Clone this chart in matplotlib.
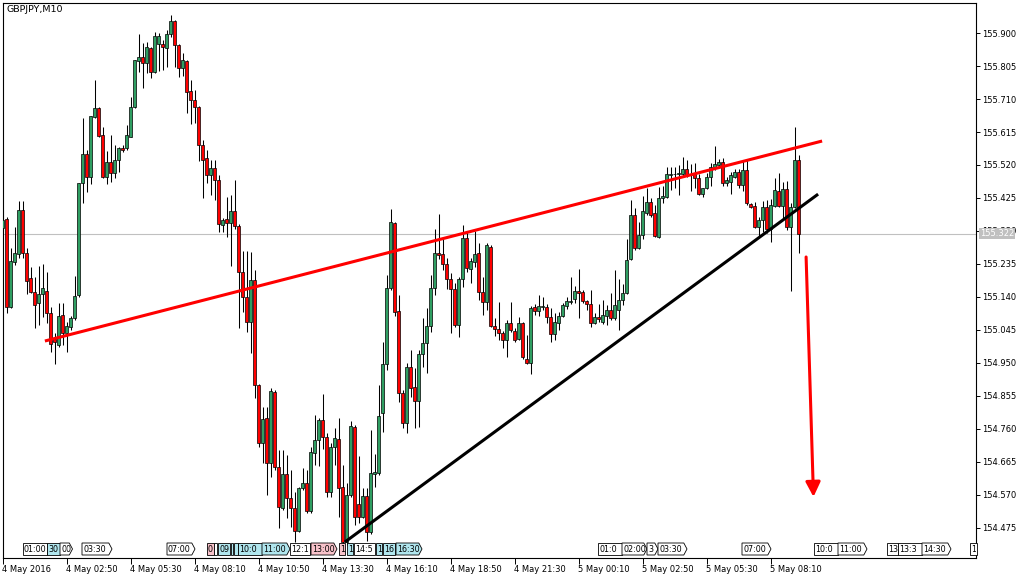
import matplotlib
matplotlib.use("Agg")
import matplotlib.pyplot as plt
import numpy as np
from matplotlib.patches import Polygon
from matplotlib.transforms import blended_transform_factory
from matplotlib.ticker import FixedLocator

# ---------------- data ----------------
title_text = "GBPJPY,M10"

opens = [155.338, 155.364, 155.111, 155.240, 155.263, 155.390, 155.266, 155.194, 155.154, 155.122,
         155.148, 155.157, 155.094, 155.019, 155.001, 155.088, 155.036, 155.053, 155.079, 155.145,
         155.468, 155.551, 155.485, 155.658, 155.684, 155.606, 155.485, 155.528, 155.497, 155.534,
         155.569, 155.569, 155.600, 155.687, 155.819, 155.831, 155.814, 155.857, 155.788, 155.868,
         155.868, 155.857, 155.897, 155.935, 155.865, 155.799, 155.819, 155.733, 155.707, 155.687,
         155.577, 155.540, 155.491, 155.511, 155.477, 155.347, 155.364, 155.353, 155.387, 155.344,
         155.212, 155.140, 155.068, 155.189, 154.886, 154.719, 154.791, 154.662, 154.866, 154.650,
         154.532, 154.630, 154.561, 154.532, 154.466, 154.590, 154.604, 154.523, 154.690, 154.728,
         154.785, 154.736, 154.578, 154.708, 154.731, 154.592, 154.434, 154.569, 154.765, 154.543,
         154.506, 154.567, 154.463, 154.630, 154.633, 154.806, 154.947, 155.166, 155.353, 155.099,
         154.863, 154.777, 154.938, 154.880, 154.840, 154.976, 155.007, 155.056, 155.166, 155.266,
         155.263, 155.235, 155.192, 155.163, 155.059, 155.192, 155.310, 155.220, 155.240, 155.266,
         155.154, 155.125, 155.284, 155.056, 155.047, 155.036, 155.016, 155.065, 155.042, 155.019,
         155.065, 154.961, 154.950, 155.111, 155.099, 155.111, 155.111, 155.082, 155.033, 155.065,
         155.085, 155.114, 155.125, 155.134, 155.157, 155.154, 155.128, 155.119, 155.065, 155.082,
         155.068, 155.085, 155.102, 155.079, 155.102, 155.131, 155.151, 155.249, 155.376, 155.281,
         155.318, 155.382, 155.413, 155.382, 155.312, 155.425, 155.428, 155.491, 155.494, 155.494,
         155.494, 155.508, 155.491, 155.497, 155.482, 155.436, 155.454, 155.485, 155.514, 155.520,
         155.528, 155.468, 155.471, 155.485, 155.500, 155.462, 155.505, 155.408, 155.402, 155.341,
         155.361, 155.399, 155.336, 155.402, 155.445, 155.402, 155.451, 155.341, 155.399, 155.534]

highs = [155.390, 155.370, 155.281, 155.341, 155.416, 155.416, 155.281, 155.226, 155.197, 155.229,
         155.235, 155.212, 155.111, 155.036, 155.122, 155.122, 155.068, 155.085, 155.200, 155.468,
         155.655, 155.563, 155.661, 155.765, 155.687, 155.629, 155.560, 155.606, 155.577, 155.572,
         155.577, 155.635, 155.716, 155.822, 155.897, 155.871, 155.874, 155.860, 155.903, 155.900,
         155.880, 155.909, 155.952, 155.937, 155.868, 155.842, 155.822, 155.765, 155.736, 155.690,
         155.592, 155.563, 155.534, 155.534, 155.491, 155.367, 155.428, 155.433, 155.477, 155.350,
         155.272, 155.272, 155.269, 155.217, 154.888, 154.823, 154.823, 154.878, 154.872, 154.699,
         154.699, 154.685, 154.641, 154.578, 154.592, 154.647, 154.641, 154.708, 154.800, 154.791,
         154.860, 154.748, 154.719, 154.762, 154.791, 154.656, 154.604, 154.783, 154.771, 154.682,
         154.590, 154.590, 154.757, 154.687, 154.886, 155.010, 155.203, 155.393, 155.356, 155.145,
         154.872, 154.950, 154.987, 154.935, 154.987, 155.079, 155.108, 155.203, 155.336, 155.379,
         155.307, 155.252, 155.209, 155.180, 155.197, 155.347, 155.327, 155.252, 155.330, 155.295,
         155.197, 155.295, 155.289, 155.079, 155.125, 155.042, 155.073, 155.125, 155.050, 155.082,
         155.068, 155.030, 155.114, 155.119, 155.145, 155.140, 155.119, 155.108, 155.094, 155.096,
         155.122, 155.140, 155.197, 155.171, 155.220, 155.160, 155.131, 155.160, 155.094, 155.119,
         155.131, 155.117, 155.151, 155.217, 155.192, 155.177, 155.307, 155.419, 155.396, 155.356,
         155.431, 155.454, 155.425, 155.405, 155.456, 155.459, 155.514, 155.514, 155.514, 155.520,
         155.543, 155.534, 155.523, 155.526, 155.494, 155.454, 155.497, 155.526, 155.575, 155.537,
         155.540, 155.485, 155.500, 155.508, 155.508, 155.531, 155.534, 155.410, 155.413, 155.370,
         155.416, 155.419, 155.422, 155.482, 155.497, 155.471, 155.474, 155.410, 155.629, 155.549]

lows = [155.327, 155.094, 155.108, 155.232, 155.252, 155.252, 155.148, 155.151, 155.050, 155.059,
        155.082, 155.065, 154.981, 154.947, 154.996, 155.001, 154.981, 155.045, 155.073, 155.140,
        155.410, 155.442, 155.465, 155.655, 155.600, 155.482, 155.465, 155.471, 155.482, 155.500,
        155.557, 155.563, 155.600, 155.684, 155.788, 155.742, 155.785, 155.770, 155.785, 155.791,
        155.793, 155.802, 155.888, 155.802, 155.773, 155.776, 155.670, 155.638, 155.641, 155.531,
        155.425, 155.468, 155.433, 155.419, 155.327, 155.327, 155.312, 155.229, 155.336, 155.050,
        155.096, 155.039, 154.978, 154.849, 154.708, 154.662, 154.569, 154.621, 154.641, 154.474,
        154.526, 154.503, 154.477, 154.434, 154.463, 154.584, 154.518, 154.518, 154.656, 154.653,
        154.702, 154.564, 154.564, 154.656, 154.506, 154.425, 154.425, 154.564, 154.483, 154.489,
        154.503, 154.437, 154.457, 154.592, 154.627, 154.751, 154.929, 155.160, 155.085, 154.837,
        154.762, 154.748, 154.852, 154.762, 154.765, 154.938, 154.921, 155.039, 155.145, 155.249,
        155.217, 155.163, 155.036, 155.053, 155.024, 155.168, 155.212, 155.180, 155.226, 155.131,
        155.088, 155.102, 155.053, 155.027, 155.016, 154.993, 154.967, 155.039, 155.010, 155.016,
        154.961, 154.947, 154.918, 155.088, 155.085, 155.102, 155.065, 155.010, 155.016, 155.045,
        155.082, 155.105, 155.119, 155.122, 155.079, 155.122, 155.102, 155.053, 155.062, 155.068,
        155.062, 155.059, 155.073, 155.073, 155.045, 155.117, 155.148, 155.246, 155.275, 155.278,
        155.307, 155.376, 155.370, 155.312, 155.310, 155.410, 155.425, 155.448, 155.454, 155.433,
        155.488, 155.485, 155.445, 155.454, 155.433, 155.428, 155.451, 155.459, 155.505, 155.514,
        155.459, 155.459, 155.436, 155.482, 155.454, 155.445, 155.405, 155.396, 155.338, 155.312,
        155.327, 155.324, 155.298, 155.399, 155.399, 155.367, 155.333, 155.157, 155.396, 155.266]

closes = [155.361, 155.111, 155.243, 155.266, 155.390, 155.266, 155.186, 155.154, 155.117, 155.148,
          155.166, 155.094, 155.004, 155.010, 155.085, 155.036, 155.056, 155.079, 155.143, 155.468,
          155.551, 155.485, 155.661, 155.684, 155.603, 155.485, 155.528, 155.497, 155.534, 155.569,
          155.563, 155.606, 155.687, 155.822, 155.831, 155.814, 155.860, 155.788, 155.891, 155.891,
          155.860, 155.897, 155.935, 155.865, 155.799, 155.822, 155.730, 155.707, 155.687, 155.577,
          155.534, 155.491, 155.511, 155.477, 155.350, 155.361, 155.353, 155.387, 155.344, 155.212,
          155.140, 155.068, 155.189, 154.886, 154.719, 154.788, 154.662, 154.869, 154.650, 154.535,
          154.630, 154.561, 154.532, 154.466, 154.590, 154.604, 154.523, 154.693, 154.728, 154.785,
          154.736, 154.578, 154.708, 154.734, 154.590, 154.434, 154.569, 154.768, 154.506, 154.506,
          154.567, 154.463, 154.633, 154.636, 154.797, 154.947, 155.166, 155.356, 155.096, 154.863,
          154.777, 154.938, 154.878, 154.840, 154.976, 155.007, 155.056, 155.166, 155.266, 155.261,
          155.235, 155.192, 155.163, 155.059, 155.192, 155.310, 155.223, 155.243, 155.263, 155.154,
          155.125, 155.289, 155.056, 155.047, 155.036, 155.016, 155.065, 155.045, 155.016, 155.065,
          154.967, 154.950, 155.108, 155.099, 155.114, 155.114, 155.082, 155.033, 155.068, 155.085,
          155.117, 155.128, 155.128, 155.157, 155.151, 155.128, 155.119, 155.065, 155.082, 155.076,
          155.088, 155.102, 155.079, 155.117, 155.131, 155.151, 155.246, 155.376, 155.281, 155.318,
          155.387, 155.413, 155.376, 155.315, 155.425, 155.431, 155.494, 155.494, 155.494, 155.497,
          155.508, 155.488, 155.491, 155.482, 155.436, 155.454, 155.485, 155.514, 155.523, 155.528,
          155.468, 155.477, 155.491, 155.500, 155.462, 155.505, 155.410, 155.399, 155.341, 155.361,
          155.399, 155.336, 155.405, 155.448, 155.402, 155.451, 155.341, 155.399, 155.534, 155.322]

x_tick_bars = [0, 16, 32, 48, 64, 80, 96, 112, 128, 144, 160, 176, 192]
x_tick_labels = ["4 May 2016", "4 May 02:50", "4 May 05:30", "4 May 08:10", "4 May 10:50",
                 "4 May 13:30", "4 May 16:10", "4 May 18:50", "4 May 21:30", "5 May 00:10",
                 "5 May 02:50", "5 May 05:30", "5 May 08:10"]
y_tick_values = [154.475, 154.570, 154.665, 154.760, 154.855, 154.950, 155.045, 155.140,
                 155.235, 155.330, 155.425, 155.520, 155.615, 155.710, 155.805, 155.900]
current_price = 155.322

red_trend_x = [10.6, 204.9]
red_trend_y = [155.013, 155.589]
black_trend_x = [85.6, 203.9]
black_trend_y = [154.434, 155.436]
arrow_x = [200.9, 202.75]
arrow_y = [155.255, 154.564]

# event tags along the bottom (visible label text, kind)
event_labels = ["01:00", "30", "00", "03:30", "07:00", "0", "", "09", "", "", "10:0", "11:00",
                "12:1", "13:00", "1", "1", "14:5", "1", "16", "16:30",
                "01:0", "02:00", "3", "03:30", "07:00", "10:0", "11:00", "13", "13:3", "14:30", "1"]
event_kinds = ["w", "c", "w", "w", "w", "p", "w", "c", "c", "c", "c", "c",
               "w", "p", "p", "c", "w", "c", "c", "c",
               "w", "w", "w", "w", "w", "w", "w", "w", "w", "w", "w"]
event_left = [5.05, 11.2, 14.375, 19.875, 41.125, 51.0, 52.875, 53.875, 57.0, 57.875, 58.875, 64.875,
              71.875, 77.125, 84.125, 86.125, 87.875, 93.375, 95.125, 98.375,
              148.875, 154.875, 161.125, 163.875, 184.875, 202.875, 208.875, 221.125, 223.875, 229.875, 241.875]
event_right = [11.2, 14.375, 17.5, 27.375, 48.125, 52.75, 53.625, 56.875, 57.625, 58.75, 64.875, 71.875,
               76.875, 83.625, 85.625, 87.625, 93.125, 94.875, 98.125, 104.875,
               154.875, 161.125, 163.875, 171.125, 192.125, 208.875, 216.125, 223.875, 229.875, 237.125, 243.6]
event_pointed = [False, False, True, True, True, False, False, False, False, False, False, True,
                 False, True, False, False, False, False, False, True,
                 False, True, True, True, True, False, True, False, False, True, False]

# ---------------- drawing ----------------
W, H = 1030, 580
fig = plt.figure(figsize=(W / 100, H / 100), dpi=100, facecolor="white")
ax = fig.add_axes([2.5 / W, 1 - 558 / H, 973 / W, 555.5 / H])
ax.set_facecolor("white")

o = np.array(opens)
h = np.array(highs)
l = np.array(lows)
c = np.array(closes)
x = np.arange(len(o))
up = c >= o

green = "#2f9e62"
red = "#ff0000"

ax.vlines(x, l, h, color="black", linewidth=0.75, zorder=2)
ax.bar(x[up], (c - o)[up], bottom=o[up], width=0.72, color=green,
       edgecolor="black", linewidth=0.5, zorder=3)
ax.bar(x[~up], (o - c)[~up], bottom=c[~up], width=0.72, color=red,
       edgecolor="black", linewidth=0.5, zorder=3)

ax.axhline(current_price, color="#c0c0c0", linewidth=0.8, zorder=1)

ax.plot(red_trend_x, red_trend_y, color="#ff0000", linewidth=2.2, zorder=5,
        solid_capstyle="butt")
ax.plot(black_trend_x, black_trend_y, color="black", linewidth=2.2, zorder=5,
        solid_capstyle="butt")
ax.annotate("", xy=(arrow_x[1], arrow_y[1]), xytext=(arrow_x[0], arrow_y[0]),
            arrowprops=dict(arrowstyle="-|>", color="#ff0000", lw=2.2,
                            mutation_scale=22, shrinkA=0, shrinkB=0),
            zorder=6)

# event tags
tr = blended_transform_factory(ax.transData, ax.transAxes)
y0, y1 = (558 - 555) / 555.5, (558 - 543) / 555.5
ym = (y0 + y1) / 2
fills = {"w": "white", "c": "#b0e6ee", "p": "#f8c2ca"}
for k, (lab, kind, lft, rgt, pt) in enumerate(zip(event_labels, event_kinds, event_left,
                                                  event_right, event_pointed)):
    if pt:
        verts = [(lft, y0), (rgt - 0.8, y0), (rgt, ym), (rgt - 0.8, y1), (lft, y1)]
    else:
        verts = [(lft, y0), (rgt, y0), (rgt, y1), (lft, y1)]
    poly = Polygon(verts, closed=True, transform=tr, facecolor=fills[kind],
                   edgecolor="black", linewidth=0.6, zorder=7 + k * 0.01, clip_on=False)
    ax.add_patch(poly)
    if lab:
        t = ax.text(lft + 0.25, ym, lab, transform=tr, fontsize=5.8, ha="left", va="center",
                    color="black", zorder=7 + k * 0.01 + 0.005, clip_on=True)
        t.set_clip_path(poly)

# axes
ax.set_xlim(0, 243.25)
ax.set_ylim(154.388, 155.988)
for s in ax.spines.values():
    s.set_color("black")
    s.set_linewidth(0.8)

ax.yaxis.tick_right()
ax.yaxis.set_major_locator(FixedLocator(y_tick_values))
ax.set_yticklabels([f"{v:.3f}" for v in y_tick_values])
ax.tick_params(axis="y", direction="out", length=3, width=0.7, pad=1.5, labelsize=6,
               colors="black")
ax.set_xticks(x_tick_bars)
ax.set_xticklabels(x_tick_labels)
ax.tick_params(axis="x", direction="out", length=4, width=0.7, pad=1, labelsize=6,
               colors="black")
for lab in ax.get_xticklabels():
    lab.set_horizontalalignment("left")

# current price label
ax.text(1.0045, current_price, f"{current_price:.3f}",
        transform=blended_transform_factory(ax.transAxes, ax.transData),
        fontsize=6, color="white", ha="left", va="center",
        bbox=dict(boxstyle="square,pad=0.15", facecolor="#c0c0c0", edgecolor="none"),
        clip_on=False, zorder=10)

ax.text((6.7 - 2.5) / 973, 1 - (5.5 - 2.5) / 555.5, title_text, transform=ax.transAxes,
        fontsize=6.8, ha="left", va="top", color="black")

fig.savefig("out.png", dpi=100, facecolor="white")
